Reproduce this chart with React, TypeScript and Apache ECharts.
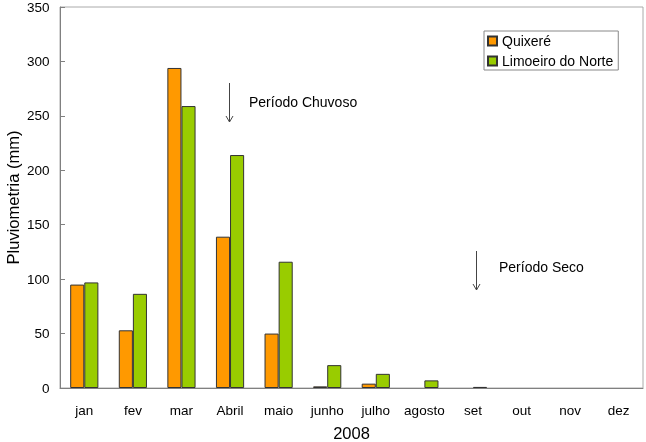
import React, { useEffect, useRef } from "react";
import * as echarts from "echarts";

const months = ["jan", "fev", "mar", "Abril", "maio", "junho", "julho", "agosto", "set", "out", "nov", "dez"];
const quixere = [95, 53, 294, 139, 50, 1.5, 4, 0, 0, 0, 0, 0];
const limoeiro = [97, 86.5, 259, 214, 116, 21, 13, 7, 1, 0, 0, 0];
const yTicks = { min: 0, max: 350, interval: 50 };

const FONT = "Liberation Sans, Arial, sans-serif";

// zero-valued bars are not drawn in the reference (no outline either)
const toBarData = (vals: number[]) =>
  vals.map((v) => (v === 0 ? { value: v, itemStyle: { borderWidth: 0, opacity: 0 } } : v));

export default function App() {
  const ref = useRef<HTMLDivElement>(null);
  useEffect(() => {
    if (!ref.current) return;
    const chart = echarts.init(ref.current, null, { renderer: "svg" });
    const arrow = (x: number, y1: number, y2: number) => [
      { type: "line", shape: { x1: x, y1, x2: x, y2 }, style: { stroke: "#444", lineWidth: 1 } },
      {
        type: "polyline",
        shape: { points: [[x - 3.5, y2 - 6], [x, y2], [x + 3.5, y2 - 6]] },
        style: { stroke: "#444", lineWidth: 1, fill: null },
      },
    ];
    chart.setOption({
      animation: false,
      textStyle: { fontFamily: FONT },
      grid: {
        left: 60,
        right: 3,
        top: 7,
        bottom: 54,
        containLabel: false,
        outerBoundsMode: "none",
        show: true,
        borderColor: "#aaa",
        borderWidth: 1,
      },
      legend: {
        orient: "vertical",
        left: 484,
        top: 31,
        padding: [3, 5, 2, 3],
        itemGap: 6,
        itemWidth: 9,
        itemHeight: 9,
        icon: "rect",
        borderColor: "#888",
        borderWidth: 1,
        textStyle: { fontFamily: FONT, fontSize: 14, color: "#000", lineHeight: 14 },
        data: ["Quixeré", "Limoeiro do Norte"],
      },
      xAxis: {
        type: "category",
        data: months,
        name: "2008",
        nameLocation: "middle",
        nameGap: 36.5,
        nameMoveOverlap: false,
        nameTextStyle: { fontFamily: FONT, fontSize: 16.5, color: "#000" },
        axisLine: { lineStyle: { color: "#808080", width: 1 } },
        axisTick: { inside: true, length: 5, lineStyle: { color: "#808080" } },
        axisLabel: { interval: 0, hideOverlap: false, fontFamily: FONT, fontSize: 13.5, color: "#000", margin: 15 },
      },
      yAxis: {
        type: "value",
        min: yTicks.min,
        max: yTicks.max,
        interval: yTicks.interval,
        name: "Pluviometria (mm)",
        nameLocation: "middle",
        nameGap: 39,
        nameMoveOverlap: false,
        nameTextStyle: { fontFamily: FONT, fontSize: 16.5, color: "#000" },
        axisLine: { show: true, lineStyle: { color: "#808080", width: 1 } },
        axisTick: { show: true, inside: true, length: 5, lineStyle: { color: "#808080" } },
        axisLabel: { fontFamily: FONT, fontSize: 13.5, color: "#000", margin: 10.5 },
        splitLine: { show: false },
      },
      series: [
        {
          name: "Quixeré",
          type: "bar",
          data: toBarData(quixere),
          barGap: "0%",
          barCategoryGap: "42%",
          itemStyle: { color: "#FF9900", borderColor: "#333", borderWidth: 1 },
        },
        {
          name: "Limoeiro do Norte",
          type: "bar",
          data: toBarData(limoeiro),
          barGap: "0%",
          barCategoryGap: "42%",
          itemStyle: { color: "#99CC00", borderColor: "#333", borderWidth: 1 },
        },
      ],
      graphic: [
        ...arrow(229.5, 83, 122),
        { type: "text", x: 249, y: 102, style: { text: "Período Chuvoso", font: `14px ${FONT}`, fill: "#000", textVerticalAlign: "middle" } },
        ...arrow(476.5, 251, 290),
        { type: "text", x: 499, y: 267, style: { text: "Período Seco", font: `14px ${FONT}`, fill: "#000", textVerticalAlign: "middle" } },
      ],
    });
    return () => chart.dispose();
  }, []);
  return <div ref={ref} style={{ position: "fixed", left: 0, top: 0, width: 646, height: 442 }} />;
}
